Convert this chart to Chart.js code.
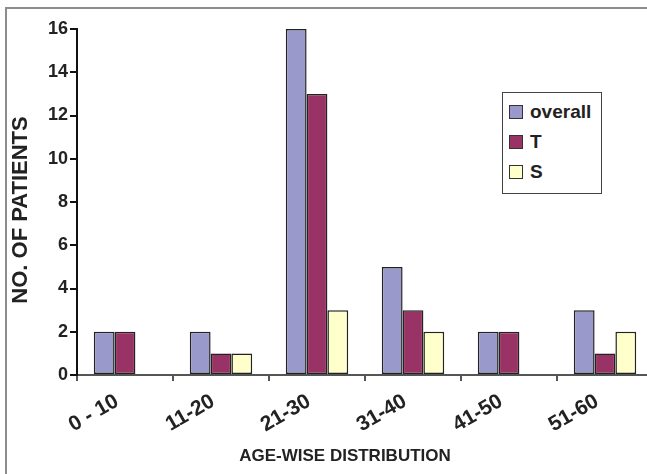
<!DOCTYPE html>
<html>
<head>
<meta charset="utf-8">
<script src="https://cdn.jsdelivr.net/npm/chart.js@4.4.0/dist/chart.umd.min.js"></script>
<style>
  html, body { margin: 0; padding: 0; background: #fff; overflow: hidden; }
  #wrap { position: relative; width: 647px; height: 474px; overflow: hidden; }
  #marco { position: absolute; left: 5px; top: 7px; width: 700px; height: 500px;
           border-top: 2px solid #8c8c8c; border-left: 2px solid #8c8c8c; box-sizing: border-box; }
  #lienzo { position: absolute; left: 0; top: 0; }
  #leyenda { position: absolute; left: 502px; top: 92px; width: 100px; height: 102px;
             border: 1.5px solid #444; box-sizing: border-box; background: #fff;
             font-family: "Liberation Sans", Arial, sans-serif; font-weight: bold; font-size: 19px; color: #222;
             padding-top: 4px; }
  .item { height: 30px; line-height: 30px; display: flex; align-items: center; }
  .caja { width: 12px; height: 12px; border: 1.5px solid #333; margin-left: 6px; margin-right: 7px; }
</style>
</head>
<body>
<div id="wrap">
  <div id="marco"></div>
  <canvas id="lienzo" width="660" height="474" style="width:660px;height:474px"></canvas>
  <div id="leyenda"></div>
</div>
<script>
// datos
var etiquetas = ['0 - 10', '11-20', '21-30', '31-40', '41-50', '51-60'];
var overall = [2, 2, 16, 5, 2, 3];
var grupoT = [2, 1, 13, 3, 2, 1];
var grupoS = [0, 1, 3, 2, 0, 2];
var ticksY = [0, 2, 4, 6, 8, 10, 12, 14, 16];

var fuente = '"Liberation Sans", Arial, sans-serif';

// titulos de los ejes, corridos como en el original
const titulos = {
    id: 'titulos',
    afterDraw: function (chart) {
        const ctx = chart.ctx;
        ctx.save();
        ctx.fillStyle = '#222';
        ctx.textAlign = 'center';
        ctx.textBaseline = 'middle';
        ctx.font = 'bold 17px ' + fuente;
        ctx.fillText('AGE-WISE DISTRIBUTION', 345, 456);
        ctx.translate(21, 210);
        ctx.rotate(-Math.PI / 2);
        ctx.font = 'bold 22px ' + fuente;
        ctx.fillText('NO. OF PATIENTS', 0, 0);
        ctx.restore();
    }
};

const ctx = document.getElementById('lienzo').getContext('2d');
const grafico = new Chart(ctx, {
    type: 'bar',
    data: {
        labels: etiquetas,
        datasets: [{
            label: 'overall',
            data: overall,
            backgroundColor: '#9999CC',
            borderColor: '#222',
            borderWidth: 1.5
        }, {
            label: 'T',
            data: grupoT,
            backgroundColor: '#993366',
            borderColor: '#222',
            borderWidth: 1.5
        }, {
            label: 'S',
            data: grupoS,
            backgroundColor: '#FFFFCC',
            borderColor: '#222',
            borderWidth: 1.5
        }]
    },
    options: {
        responsive: false,
        animation: false,
        layout: { padding: { top: 29, right: 7, bottom: 0, left: 0 } },
        datasets: {
            bar: { barPercentage: 1, categoryPercentage: 0.65, borderSkipped: false }
        },
        plugins: {
            legend: { display: false },
            tooltip: { enabled: false }
        },
        scales: {
            x: {
                afterFit: function (escala) { escala.height = 99; },
                border: { color: '#555', width: 2 },
                grid: { offset: true, drawOnChartArea: false, drawTicks: true, tickLength: 6, tickColor: '#555', lineWidth: 2 },
                ticks: {
                    color: '#222',
                    font: { family: fuente, size: 21, weight: 'bold' },
                    minRotation: 30,
                    maxRotation: 30,
                    padding: 8,
                    labelOffset: -8
                }
            },
            y: {
                min: 0,
                max: 16,
                afterFit: function (escala) { escala.width = 77; },
                afterBuildTicks: function (escala) {
                    escala.ticks = ticksY.map(function (v) { return { value: v }; });
                },
                border: { color: '#111', width: 2 },
                grid: { drawOnChartArea: false, drawTicks: true, tickLength: 7, tickColor: '#111', lineWidth: 2 },
                ticks: {
                    color: '#222',
                    font: { family: fuente, size: 18, weight: 'bold' },
                    padding: 2
                }
            }
        }
    },
    plugins: [titulos]
});

// leyenda en html, armada con los datasets
var leyenda = document.getElementById('leyenda');
grafico.data.datasets.forEach(function (ds) {
    var fila = document.createElement('div');
    fila.className = 'item';
    var caja = document.createElement('span');
    caja.className = 'caja';
    caja.style.background = ds.backgroundColor;
    var txt = document.createElement('span');
    txt.textContent = ds.label;
    fila.appendChild(caja);
    fila.appendChild(txt);
    leyenda.appendChild(fila);
});
</script>
</body>
</html>
